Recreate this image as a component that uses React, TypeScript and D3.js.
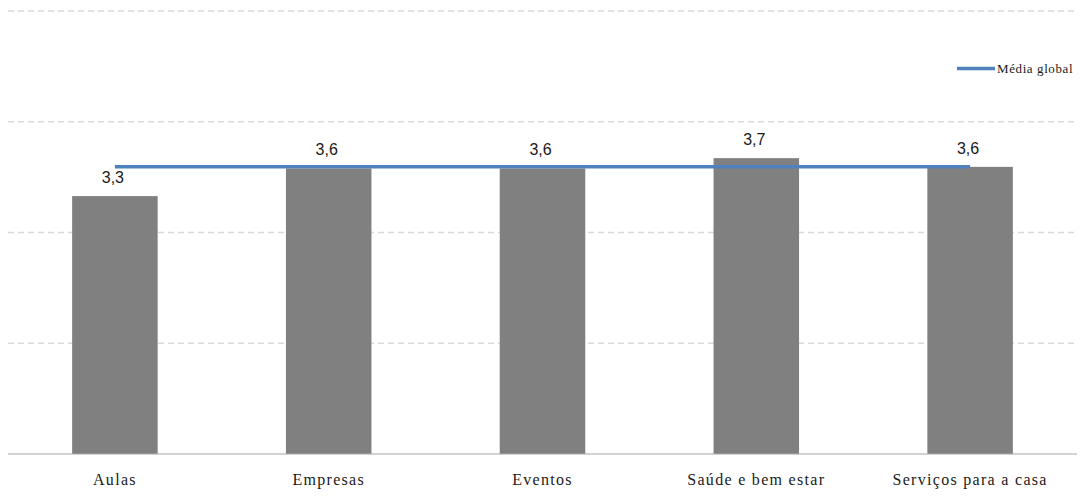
import React from "react";
import * as d3 from "d3";

const categories = ["Aulas", "Empresas", "Eventos", "Saúde e bem estar", "Serviços para a casa"];
const values = [3.26, 3.61, 3.61, 3.74, 3.63];
const globalAverage = 3.63;
const gridTicks = [1.4, 2.8, 4.2, 5.6];
const yMax = 5.6;
const legendLabel = "Média global";

const W = 1082;
const H = 496;
const left = 8;
const right = 1077;
const top = 11;
const bottom = 454;

export default function App() {
  const x = d3.scaleBand<string>().domain(categories).range([left, right]).paddingInner(0).paddingOuter(0);
  const y = d3.scaleLinear().domain([0, yMax]).range([bottom, top]);
  const bw = x.bandwidth() * 0.4;
  const fmt = (v: number) => v.toFixed(1).replace(".", ",");
  const cx = (c: string) => (x(c) as number) + x.bandwidth() / 2;
  const lineGen = d3.line<string>().x((c) => cx(c)).y(() => y(globalAverage));

  return (
    <svg width={W} height={H} style={{ position: "absolute", left: 0, top: 0, background: "#fff" }}>
      {gridTicks.map((t) => (
        <line key={t} x1={left} x2={right} y1={y(t)} y2={y(t)} stroke="#d9d9d9" strokeWidth={1.5} strokeDasharray="6,4" />
      ))}
      {categories.map((c, i) => (
        <rect key={c} x={cx(c) - bw / 2} y={y(values[i])} width={bw} height={bottom - y(values[i])} fill="#808080" />
      ))}
      <line x1={left} x2={right} y1={bottom} y2={bottom} stroke="#a6a6a6" strokeWidth={1.2} />
      <path d={lineGen([categories[0], categories[categories.length - 1]]) || ""} stroke="#4f81bd" strokeWidth={3.5} fill="none" />
      {categories.map((c, i) => (
        <text key={c} x={cx(c) - 2} y={y(values[i]) - 13} textAnchor="middle" fontFamily="'Liberation Sans', Arial, sans-serif" fontSize={16} fill="#1a1a1a">
          {fmt(values[i])}
        </text>
      ))}
      {categories.map((c) => (
        <text key={c} x={cx(c)} y={485} textAnchor="middle" fontFamily="'Liberation Serif', serif" fontSize={16} letterSpacing={1.3} fill="#1a1a1a">
          {c}
        </text>
      ))}
      <line x1={957} x2={995} y1={68.5} y2={68.5} stroke="#4f81bd" strokeWidth={3.5} />
      <text x={997} y={72.5} fontFamily="'Liberation Serif', serif" fontSize={13} letterSpacing={0.6} fill="#1a1a1a">
        {legendLabel}
      </text>
    </svg>
  );
}
